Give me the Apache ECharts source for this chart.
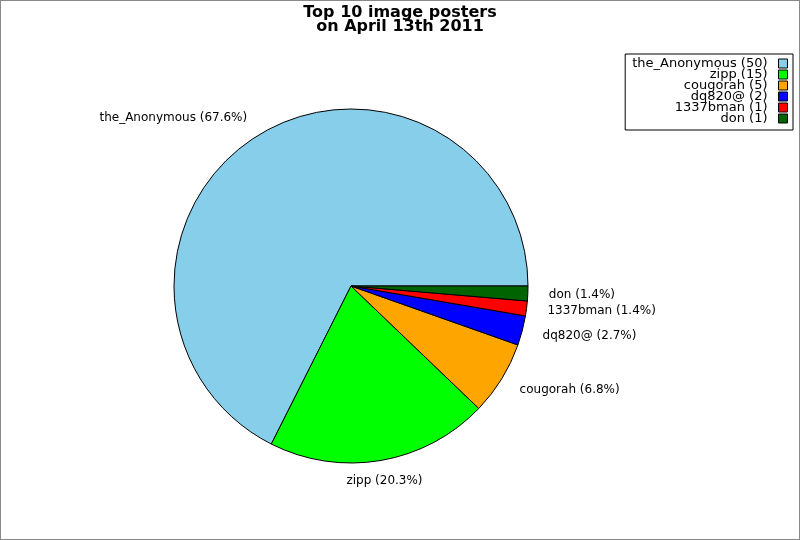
<!DOCTYPE html>
<html>
<head>
<meta charset="utf-8">
<title>Top 10 image posters</title>
<script src="https://cdn.jsdelivr.net/npm/echarts@6/dist/echarts.min.js"></script>
<style>
  html, body { margin: 0; padding: 0; background: #fff; }
  #chart { width: 800px; height: 540px; box-sizing: border-box; border: 1px solid #888; }
</style>
</head>
<body>
<div id="chart"></div>
<script>
// data
var posters = ['the_Anonymous', 'zipp', 'cougorah', 'dq820@', '1337bman', 'don'];
var counts = [50, 15, 5, 2, 1, 1];
var colors = ['#87ceeb', '#00ff00', '#ffa500', '#0000ff', '#ff0000', '#006400'];

var total = counts.reduce(function (a, b) { return a + b; }, 0);

var pieData = posters.map(function (name, i) {
    return { name: name, value: counts[i], itemStyle: { color: colors[i] } };
});

var chart = echarts.init(document.getElementById('chart'), null, { renderer: 'canvas' });

chart.setOption({
    animation: false,
    backgroundColor: '#fff',
    title: {
        text: 'Top 10 image posters\non April 13th 2011',
        left: 'center',
        top: 0,
        textStyle: {
            fontFamily: 'DejaVu Sans',
            fontWeight: 'bold',
            fontSize: 16,
            lineHeight: 14,
            color: '#000'
        }
    },
    legend: {
        orient: 'vertical',
        right: 6,
        top: 53,
        align: 'right',
        icon: 'rect',
        itemWidth: 9,
        itemHeight: 9,
        itemGap: -2,
        padding: [3, 5, 5, 7],
        borderColor: '#000',
        borderWidth: 1,
        itemStyle: { borderColor: '#000', borderWidth: 1 },
        data: posters,
        formatter: function (name) {
            return name + ' (' + counts[posters.indexOf(name)] + ')';
        },
        textStyle: {
            fontFamily: 'DejaVu Sans',
            fontSize: 13,
            color: '#000',
            padding: [0, 6, 0, 0]
        }
    },
    series: [{
        type: 'pie',
        center: [350, 285],
        radius: 177,
        startAngle: 0,
        clockwise: false,
        avoidLabelOverlap: false,
        data: pieData,
        itemStyle: { borderColor: '#000', borderWidth: 1 },
        label: {
            show: true,
            position: 'outside',
            distanceToLabelLine: 0,
            fontFamily: 'DejaVu Sans',
            fontSize: 12,
            color: '#000',
            formatter: function (p) {
                return p.name + ' (' + (p.value / total * 100).toFixed(1) + '%)';
            }
        },
        // label under the pie is centred on its slice, like the original
        labelLayout: function (params) {
            if (posters[params.dataIndex] === 'zipp') {
                return { align: 'center' };
            }
        },
        labelLine: { show: false, length: 21, length2: 0 },
        emphasis: { disabled: true }
    }]
});
</script>
</body>
</html>
